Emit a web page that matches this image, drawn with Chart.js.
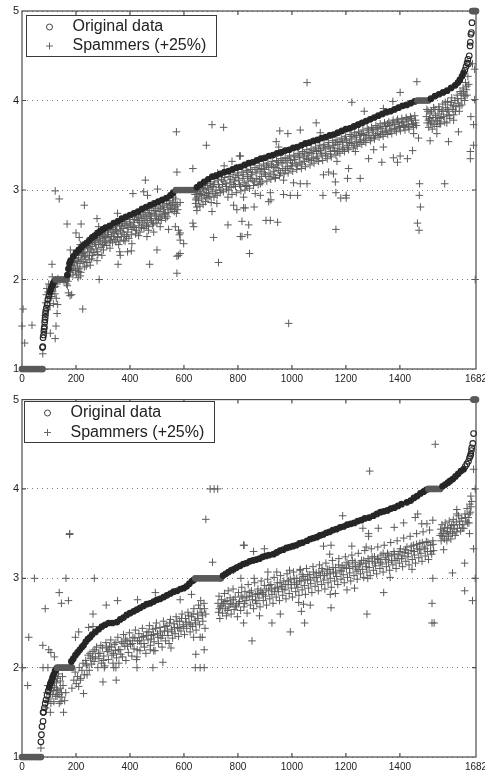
<!DOCTYPE html>
<html>
<head>
<meta charset="utf-8">
<title>Original data vs spammers</title>
<script src="https://cdn.jsdelivr.net/npm/chart.js@4/dist/chart.umd.min.js"></script>
<style>
  html, body { margin: 0; padding: 0; background: #fff; }
  #wrap { position: relative; width: 485px; height: 773px; overflow: hidden; }
  canvas { position: absolute; left: 0; }
  #top { top: 0; }
  #bottom { top: 390px; }
</style>
</head>
<body>
<div id="wrap">
  <canvas id="top" width="485" height="390"></canvas>
  <canvas id="bottom" width="485" height="383"></canvas>
</div>
<script>
const seriesLabels = ['Original data', 'Spammers (+25%)'];
const xTickValues = [0, 200, 400, 600, 800, 1000, 1200, 1400, 1682];
const yTickValues = [1, 2, 3, 4, 5];

// upper panel, sorted mean ratings [item, rating]
const origTop = [
[0,1],[8,1],[16,1],[24,1],[32,1],[40,1],[48,1],[56,1],[64,1],[72,1],[76,1],
[76,1.24],[77,1.25],[78,1.35],[80,1.38],[81,1.42],[82,1.45],[83,1.47],[84,1.52],[85,1.55],[86,1.58],[87,1.62],[88,1.65],[90,1.68],[93,1.72],[96,1.78],[100,1.82],[104,1.86],[108,1.9],[112,1.93],[116,1.96],[120,1.98],
[125,2],[132,2],[139,2],[146,2],[153,2],[160,2],[165,2],
[168,2.05],[172,2.12],[176,2.18],[180,2.21],[190,2.26],[200,2.3],[210,2.33],[220,2.36],[230,2.39],[240,2.41],[250,2.44],[260,2.47],[270,2.49],[280,2.52],[290,2.54],[300,2.56],[310,2.58],[325,2.6],[340,2.63],[355,2.65],[370,2.68],[385,2.7],[400,2.72],[415,2.74],[430,2.76],[445,2.79],[460,2.81],[475,2.83],[490,2.85],[505,2.87],[520,2.89],[535,2.91],[550,2.94],[560,2.97],
[570,3],[580,3],[590,3],[600,3],[610,3],[620,3],[630,3],[640,3],
[648,3.03],[660,3.06],[675,3.09],[690,3.12],[705,3.15],[720,3.16],[735,3.18],[750,3.2],[765,3.21],[780,3.23],[795,3.25],[810,3.26],[825,3.28],[840,3.3],[855,3.31],[870,3.33],[885,3.35],[900,3.36],[915,3.38],[930,3.39],[945,3.41],[960,3.42],[975,3.44],[990,3.45],[1005,3.47],[1020,3.48],[1035,3.5],[1050,3.52],[1065,3.53],[1080,3.55],[1095,3.56],[1110,3.58],[1125,3.59],[1140,3.61],[1155,3.62],[1170,3.64],[1185,3.66],[1200,3.68],[1215,3.69],[1230,3.71],[1245,3.73],[1260,3.75],[1275,3.77],[1290,3.79],[1305,3.81],[1320,3.83],[1335,3.85],[1350,3.87],[1365,3.88],[1380,3.9],[1395,3.92],[1410,3.94],[1425,3.95],[1440,3.97],[1455,3.99],
[1465,4],[1475,4],[1485,4],[1495,4],[1505,4],
[1515,4.02],[1530,4.05],[1545,4.07],[1560,4.09],[1575,4.11],[1590,4.14],[1605,4.17],[1615,4.2],[1622,4.23],[1630,4.27],[1636,4.31],[1641,4.34],[1645,4.38],[1649,4.42],[1652,4.46],[1654,4.41],[1657,4.5],[1660,4.61],[1661,4.65],[1663,4.74],[1665,4.76],[1667,4.87],
[1668,5],[1672,5],[1676,5],[1680,5],[1682,5]
];

const spamTopOutliers = [
[4,1.67],[0,1.48],[37,1.49],[10,1.29],[77,1.17],[105,1.4],[123,1.34],[126,1.48],[132,1.72],[130,1.62],[225,1.67],[111,2.17],[123,2.99],[138,2.9],[231,2.83],[167,2.62],[219,2.62],[200,2.52],[212,2.47],[216,2.39],[179,2.33],[278,2.68],[284,2.59],[286,2],[216,2.04],[210,2.09],[253,2.16],[278,2.21],[296,2.27],[356,2.17],[362,2.31],[364,2.27],[391,2.31],[405,2.32],[473,2.17],[500,2.33],[348,2.42],[377,2.44],[407,2.4],[354,2.74],[411,2.96],[451,2.98],[465,2.94],[586,2.86],[568,2.59],[574,2.07],[574,2.26],[580,2.27],[586,2.29],[599,2.4],[586,2.44],[583,2.5],[586,2.52],[580,2.55],[543,2.56],[512,2.59],[488,2.53],[469,2.55],[463,2.48],[432,2.49],[648,2.81],[633,2.63],[636,2.59],[710,2.47],[728,2.19],[763,2.61],[815,2.65],[815,2.48],[704,2.76],[722,2.85],[784,2.83],[796,2.78],[821,2.8],
[988,1.51],[843,2.29],[836,2.5],[809,2.48],[840,2.61],[904,2.66],[920,2.66],[947,2.64],[914,2.87],[922,2.89],[827,2.8],[860,2.81],[821,2.92],[864,2.96],[883,2.94],[920,2.97],[969,2.95],[994,2.94],[1021,2.94],[1115,2.94],[1163,2.56],[1163,2.97],[1181,2.91],[1201,2.94],[1201,2.91],[1472,2.94],[1476,2.81],[1465,2.63],[1471,2.55],[1679,2],
[1056,4.2],[1463,4.21],[1401,4.09],[1222,3.98],[1268,3.88],[1339,3.91],[1374,3.99],[1090,3.75],[1031,3.67],[955,3.66],[985,3.63],[1105,3.64],[942,3.54],[951,3.48],[1284,3.35],[1333,3.31],[1376,3.36],[1391,3.31],[1401,3.38],[1428,3.35],[1447,3.44],[1469,3.58],[1451,3.63],[1512,3.55],[1537,3.63],[1580,3.54],[1617,3.65],[1473,3.07],[1566,3.07],[1661,3.35],[1661,3.43],[1673,3.5],[1663,3.82],[1673,3.73],[1677,4.01],[1677,4.35],[1669,4.41],[1599,3.78],[1574,3.75],[1546,3.74],[1253,3.13],[1206,3.13],[1161,3.09],[1117,3.17],[1136,3.2],[1154,3.18],[1210,3.24],[1167,3.32],[1339,3.48],[1303,3.45],[1235,3.43],[1031,3.07],[1056,3.07],[1006,3.08],[969,3.11],[938,3.13],[883,3.07],[833,3.04],[809,3.38],
[457,3.11],[502,3.01],[572,3.65],[704,3.73],[747,3.7],[683,3.5],[574,3.2],[633,3.24],[806,3.38],[778,3.32],[749,3.27],[725,3.19]
];
const spamTopLow = [
[86,1.6],[88,1.74],[90,1.83],[92,1.9],[93,1.66],[95,1.76],[97,1.86],[99,1.95],[101,1.79],[103,1.89],[104,1.71],[106,1.84],[108,1.94],[110,1.81],[112,2.03],[114,1.87],[116,1.73],[118,1.91],[119,1.97],[122,1.84],[124,1.92],[127,1.79],[130,1.95],[133,2.01],[165,1.95],[168,1.93],[172,1.85],[178,1.82],[184,1.83],[170,1.98],[175,2.03],[180,2.08]
];
const spamTopBandLeft = [
[183,2.12],[186,2.2],[189,2.05],[192,2.16],[195,2.24],[198,2.1],[200,2.21],[203,2.28],[205,2.14],[208,2.02],[210,2.24],[213,2.31],[215,2.18],[218,2.08],[220,2.27],[223,2.34],[226,2.2],[228,2.3],[231,2.14],[233,2.36],[236,2.25],[239,2.38],[241,2.19],[244,2.31],[247,2.4],[250,2.27],[252,2.35],[255,2.42],[258,2.23],[260,2.37],[263,2.44],[266,2.3],[269,2.41],[272,2.47],[275,2.34],[278,2.45],[281,2.28],[284,2.39],[287,2.49],[290,2.43],[293,2.36],[296,2.51],[299,2.46],[302,2.33],[305,2.41],[308,2.53],[311,2.47],[314,2.38],[317,2.55],[320,2.5],[323,2.43],[326,2.35],[329,2.56],[332,2.48],[335,2.41],[338,2.58],[341,2.52],[344,2.45],[347,2.6],[350,2.54],[354,2.47],[358,2.39],[361,2.6],[365,2.55],[368,2.48],[372,2.63],[375,2.57],[379,2.5],[382,2.43],[385,2.65],[389,2.6],[392,2.53],[396,2.46],[399,2.67],[403,2.61],[407,2.56],[410,2.7],[414,2.64],[418,2.58],[421,2.51],[425,2.71],[429,2.66],[433,2.6],[437,2.53],[440,2.73],[444,2.68],[448,2.62],[452,2.57],[456,2.75],[460,2.7],[464,2.64],[468,2.59],[472,2.77],[476,2.71],[480,2.66],[484,2.61],[488,2.79],[492,2.73],[496,2.68],[500,2.63],[504,2.81],[508,2.76],[512,2.7],[516,2.66],[520,2.83],[524,2.78],[528,2.73],[532,2.68],[536,2.85],[540,2.8],[544,2.75],[548,2.88],[552,2.83],[556,2.78],[560,2.92],[563,2.86],[566,2.8],[569,2.9],[572,2.74],[575,2.84],
[181,2.16],[188,2.11],[194,2.19],[201,2.06],[207,2.2],[212,2.12],[219,2.22],[225,2.29],[232,2.26],[238,2.15],[243,2.36],[249,2.22],[256,2.33],[262,2.27],[268,2.46],[273,2.39],[279,2.31],[286,2.44],[292,2.5],[298,2.39],[304,2.48],[310,2.42],[316,2.5],[322,2.57],[328,2.44],[334,2.53],[340,2.48],[346,2.56],[352,2.61],[356,2.51],[363,2.43],[369,2.6],[374,2.53],[381,2.62],[387,2.48],[393,2.58],[400,2.63],[405,2.5],[412,2.59],[417,2.67],[424,2.55],[431,2.69],[436,2.64],[443,2.58],[449,2.71],[455,2.66],[461,2.6],[467,2.73],[474,2.68],[481,2.74],[487,2.63],[494,2.77],[499,2.71],[506,2.67],[513,2.79],[519,2.72],[526,2.81],[531,2.74],[538,2.7],[545,2.84],[551,2.79],[558,2.86],[564,2.76],[570,2.82],[577,2.78]
];
const spamTopBandMid = [
[641,2.95],[643,2.85],[646,2.91],[648,2.77],[651,3],[654,2.88],[657,2.96],[659,2.82],[662,2.98],[666,2.9],[669,3.03],[671,2.84],[675,2.94],[678,3.01],[680,2.87],[684,2.97],[687,3.05],[689,2.91],[692,3.01],[696,2.93],[698,3.07],[701,2.86],[705,2.98],[708,3.04],[711,2.92],[714,3.09],[719,3],[723,2.94],[726,3.11],[731,3.03],[734,2.97],[739,3.12],[743,3.06],[746,2.98],[751,3.14],[755,3.07],[758,3.01],[763,2.92],[767,3.15],[770,3.08],[775,3.03],[778,2.95],[782,3.17],[787,3.1],[791,3.04],[794,2.97],[799,3.19],[803,3.11],[806,3.06],[811,2.99],[815,3.2],[818,3.13],[823,3.08],[826,3],[831,3.22],[835,3.15],[838,3.1],[843,3.02],[847,3.23],[850,3.17],[855,3.11],[858,3.05],[863,3.25],[867,3.19],[870,3.13],[875,3.06],[879,3.27],[882,3.21],[887,3.15],[890,3.09],[895,3.29],[899,3.23],[902,3.17],[907,3.1],[911,3.3],[914,3.25],[919,3.19],[922,3.12],[927,3.32],[931,3.26],[934,3.21],[939,3.14],[943,3.33],[946,3.28],[951,3.22],[954,3.16],[959,3.35],[963,3.3],[966,3.24],[971,3.18],[975,3.36],[978,3.31],[983,3.26],[986,3.19],[991,3.38],[995,3.33],[998,3.27],[1003,3.21],[1007,3.39],[1010,3.34],[1015,3.29],[1018,3.23],[1023,3.41],[1027,3.36],[1030,3.31],[1035,3.24],[1039,3.43],[1042,3.37],[1047,3.32],[1050,3.26],[1055,3.45],[1059,3.39],[1062,3.34],[1067,3.28],[1071,3.46],[1074,3.41],[1079,3.36],[1082,3.3],[1087,3.48],[1091,3.43],[1094,3.37],[1099,3.32],[1103,3.5],[1106,3.44],[1111,3.39],[1114,3.33],[1119,3.51],[1123,3.46],[1126,3.41],[1131,3.35],[1135,3.53],[1138,3.48],[1143,3.43],[1146,3.37],[1151,3.55],[1155,3.5],[1158,3.44],[1163,3.39],[1167,3.56],[1170,3.51],[1175,3.46],[1178,3.41],[1183,3.58],[1187,3.53],[1190,3.48],[1195,3.43],[1199,3.6],[1202,3.55],[1207,3.5],[1210,3.45],[1215,3.62],[1219,3.57],[1222,3.52],[1227,3.47],[1231,3.64],[1234,3.59],[1239,3.54],[1242,3.49],[1247,3.65],[1251,3.61],[1254,3.56],[1259,3.51],[1263,3.67],[1266,3.62],[1271,3.57],[1274,3.53],[1279,3.69],[1283,3.64],[1286,3.59],[1291,3.55],[1295,3.7],[1298,3.66],[1303,3.61],[1306,3.57],[1311,3.72],[1315,3.68],[1318,3.63],[1323,3.59],[1327,3.74],[1330,3.69],[1335,3.65],[1338,3.6],[1343,3.75],[1347,3.71],[1350,3.66],[1355,3.62],[1359,3.76],[1362,3.72],[1367,3.68],[1370,3.63],[1375,3.78],[1379,3.73],[1382,3.69],[1387,3.65],[1391,3.79],[1394,3.75],[1399,3.71],[1402,3.66],[1407,3.8],[1411,3.76],[1414,3.72],[1419,3.67],[1423,3.81],[1426,3.77],[1431,3.73],[1434,3.68],[1439,3.82],[1443,3.78],[1446,3.74],[1451,3.7],[1455,3.83],[1458,3.78],[1461,3.72],
[644,2.89],[652,2.93],[664,2.95],[673,3.02],[682,2.92],[691,2.96],[700,3.03],[709,3.06],[716,2.96],[728,3.06],[737,3],[748,3.1],[757,3.04],[766,3],[773,3.12],[784,3.06],[792,3.14],[801,3.16],[810,3.04],[820,3.17],[829,3.05],[837,3.2],[846,3.13],[853,3.2],[862,3.09],[871,3.23],[880,3.12],[888,3.24],[897,3.19],[906,3.27],[915,3.15],[924,3.28],[933,3.17],[941,3.25],[950,3.31],[958,3.19],[967,3.33],[976,3.22],[985,3.35],[993,3.24],[1002,3.3],[1011,3.37],[1020,3.27],[1029,3.39],[1037,3.29],[1046,3.41],[1055,3.35],[1064,3.42],[1073,3.33],[1081,3.44],[1090,3.35],[1099,3.46],[1108,3.41],[1117,3.48],[1125,3.38],[1134,3.49],[1143,3.4],[1152,3.47],[1161,3.53],[1169,3.43],[1178,3.54],[1187,3.45],[1196,3.57],[1205,3.47],[1213,3.53],[1222,3.6],[1231,3.5],[1240,3.61],[1249,3.53],[1257,3.63],[1266,3.55],[1275,3.61],[1284,3.67],[1293,3.58],[1301,3.68],[1310,3.61],[1319,3.7],[1328,3.62],[1337,3.71],[1345,3.64],[1354,3.74],[1363,3.66],[1372,3.75],[1381,3.68],[1389,3.77],[1398,3.7],[1407,3.75],[1416,3.7],[1425,3.79],[1433,3.71],[1442,3.8],[1450,3.73],[1458,3.75]
];
const spamTopBandRight = [
[1498,3.82],[1501,3.75],[1504,3.88],[1507,3.7],[1510,3.8],[1514,3.74],[1517,3.88],[1520,3.68],[1523,3.81],[1527,3.73],[1530,3.9],[1534,3.78],[1537,3.71],[1541,3.85],[1544,3.93],[1548,3.8],[1551,3.74],[1555,3.88],[1559,3.96],[1562,3.82],[1566,3.76],[1570,3.92],[1574,3.84],[1577,3.99],[1581,3.88],[1585,3.8],[1589,3.95],[1592,4.03],[1596,3.9],[1600,3.84],[1604,4],[1608,3.93],[1612,4.06],[1616,3.97],[1620,3.88],[1623,4.1],[1627,4.02],[1630,3.95],[1634,4.14],[1637,4.06],[1640,4],[1643,4.2],[1646,4.12],[1649,4.06],[1652,4.27],[1655,4.18],
[1500,3.9],[1506,3.78],[1512,3.86],[1518,3.76],[1525,3.92],[1532,3.83],[1539,3.77],[1546,3.9],[1553,3.81],[1560,3.88],[1568,3.98],[1576,3.9],[1583,3.83],[1590,3.98],[1598,3.94],[1606,3.88],[1614,4.02],[1622,3.94],[1629,4.08],[1636,4.1],[1642,4.05],[1648,4.16]
];

// lower panel
const origBottom = [
[0,1],[8,1],[16,1],[24,1],[32,1],[40,1],[48,1],[56,1],[64,1],[70,1],
[70,1.17],[72,1.25],[74,1.34],[78,1.4],[78,1.5],[80,1.5],[83,1.55],[86,1.6],[89,1.64],[93,1.69],[97,1.74],[101,1.78],[105,1.82],[109,1.85],[113,1.89],[117,1.92],[122,1.96],[126,1.98],
[130,2],[138,2],[146,2],[154,2],[162,2],[170,2],[178,2],[185,2],
[183,2.07],[190,2.1],[198,2.14],[206,2.17],[214,2.2],[222,2.23],[228,2.25],[236,2.29],[244,2.32],[252,2.34],[260,2.37],[272,2.4],[284,2.43],[296,2.46],[308,2.48],[321,2.5],[335,2.5],[352,2.51],[364,2.54],[376,2.56],[388,2.59],[400,2.61],[414,2.63],[426,2.65],[438,2.67],[450,2.69],[462,2.71],[475,2.72],[488,2.74],[500,2.76],[512,2.77],[525,2.79],[537,2.81],[550,2.83],[562,2.85],[575,2.86],[587,2.88],[599,2.89],[610,2.91],[620,2.94],[630,2.97],[636,2.98],
[642,3],[652,3],[662,3],[672,3],[682,3],[692,3],[702,3],[712,3],[722,3],[732,3],[737,3],
[745,3.03],[755,3.05],[765,3.07],[775,3.09],[784,3.1],[795,3.12],[808,3.14],[820,3.16],[832,3.17],[844,3.19],[856,3.2],[868,3.21],[880,3.22],[892,3.24],[904,3.25],[916,3.26],[932,3.27],[944,3.29],[956,3.31],[968,3.32],[980,3.34],[992,3.35],[1004,3.36],[1016,3.37],[1028,3.39],[1040,3.4],[1056,3.42],[1068,3.44],[1080,3.45],[1092,3.46],[1104,3.48],[1116,3.49],[1128,3.51],[1140,3.52],[1152,3.54],[1165,3.55],[1179,3.57],[1192,3.58],[1205,3.6],[1218,3.61],[1231,3.62],[1244,3.64],[1257,3.65],[1270,3.67],[1286,3.68],[1302,3.7],[1315,3.72],[1328,3.74],[1341,3.75],[1354,3.76],[1367,3.78],[1380,3.79],[1393,3.81],[1406,3.83],[1426,3.85],[1440,3.87],[1452,3.9],[1464,3.92],[1476,3.95],[1488,3.97],[1498,3.99],
[1506,4],[1516,4],[1526,4],[1536,4],[1549,4],
[1558,4.03],[1568,4.05],[1578,4.07],[1586,4.09],[1596,4.11],[1606,4.14],[1616,4.17],[1626,4.2],[1636,4.22],[1642,4.25],[1648,4.28],[1654,4.31],[1658,4.35],[1661,4.37],[1663,4.39],[1665,4.43],[1666,4.46],[1670,4.51],[1673,4.62],
[1672,5],[1677,5],[1682,5]
];

const spamBottomOutliers = [
[46,3],[163,3],[268,3],[177,3.5],[176,3.49],[681,3.66],[697,4],[712,4],[725,4],[706,3.18],[821,3.37],[811,3],[784,3.09],
[138,2.84],[172,2.75],[146,2.72],[86,2.66],[312,2.7],[354,2.75],[263,2.6],[247,2.45],[263,2.46],[210,2.4],[198,2.34],[25,2.34],[77,2.25],[99,2.2],[107,2.17],[120,2.12],[2,2],[78,2],[96,2],[305,2],[340,2],[348,2],[426,2],[485,2],[642,2],[660,2],[675,2],[522,2.06],[488,2.19],[475,2.2],[552,2.22],[426,2.12],[644,2.15],[675,2.2],[636,2.34],[660,2.34],[668,2.34],[300,1.84],[349,1.86],[228,1.71],[21,1.8],[154,1.5],[105,1.5],[70,1.1],[185,1.77],[210,1.79],[216,1.86],[241,1.92],[148,1.67],[130,1.68],[142,1.77],[628,2.82],[586,2.76],[494,2.84],[428,2.76],
[852,2.3],[994,2.4],[1047,2.5],[926,2.5],[821,2.5],[957,2.6],[880,2.58],[1035,2.63],[1145,2.67],[1278,2.6],[1340,2.84],[1519,2.72],[1519,2.5],[1527,2.5],[1640,2.86],[1669,2.75],[1204,2.87],[1232,2.89],[1161,2.83],[1142,2.82],[1068,2.7],[1043,2.71],[1025,2.73],
[1531,4.5],[1288,4.2],[1188,3.7],[823,3.37],[858,3.3],[898,3.33],[1117,3.36],[1145,3.37],[1140,3.27],[1222,3.36],[1275,3.35],[1263,3.56],[1284,3.5],[1284,3.47],[1320,3.56],[1379,3.57],[1414,3.62],[1457,3.68],[1466,3.72],[1522,3.65],[1481,3.61],[1500,3.61],[1611,3.77],[1611,3.72],[1562,3.32],[1673,3.33],[1640,3.17],[1595,3.06],[1679,4],[1673,4.22],[1658,3.5],[1522,3],[1679,3],[911,3.07],[944,3.07],[991,3.09],[860,3],[1031,3.1],[1281,3],[1364,3.01],[1445,3.1]
];
const spamBottomLow = [
[88,1.55],[92,1.72],[96,1.8],[100,1.65],[103,1.74],[107,1.6],[109,1.82],[112,1.7],[115,1.87],[118,1.62],[120,1.78],[123,1.9],[125,1.68],[128,1.83],[132,1.75],[135,1.93],[138,1.6],[142,1.85],[146,1.72],[152,1.8],[158,1.63],[162,1.72],
[94,1.62],[105,1.7],[111,1.8],[117,1.74],[121,1.85],[127,1.75],[131,1.88],[137,1.7],[144,1.62],[150,1.9]
];
const spamBottomBandLeft = [
[192,1.86],[197,1.95],[201,1.82],[206,1.9],[212,2],[217,1.88],[222,1.97],[226,2.05],[231,1.92],[236,2.08],[240,2.02],[245,2.14],[249,1.97],[254,2.1],[258,2.04],[263,2.18],[267,2.07],[272,2.12],[276,2.23],[281,2],[285,2.1],[289,2.16],[294,2.05],[298,2.22],[303,2.13],[307,2.02],[311,2.28],[316,2.18],[320,2.09],[324,2.24],[329,2.31],[333,2.14],[337,2.05],[342,2.26],[346,2.19],[350,2.11],[355,2.34],[359,2.05],[363,2.2],[368,2.29],[372,2.12],[376,2.37],[381,2.24],[385,2.08],[389,2.3],[394,2.17],[398,2.39],[402,2.26],[407,2.13],[411,2.34],[415,2.21],[420,2.42],[424,2.09],[428,2.3],[433,2.38],[437,2.19],[441,2.27],[446,2.44],[450,2.35],[454,2.23],[459,2.16],[463,2.4],[467,2.31],[472,2.47],[476,2.25],[480,2.36],[485,2.43],[489,2.29],[493,2.19],[498,2.5],[502,2.38],[506,2.27],[511,2.45],[515,2.33],[519,2.23],[524,2.52],[528,2.41],[532,2.3],[537,2.47],[541,2.36],[545,2.27],[550,2.54],[554,2.43],[558,2.33],[563,2.49],[567,2.38],[571,2.57],[576,2.45],[580,2.35],[584,2.52],[589,2.41],[593,2.6],[597,2.48],[602,2.37],[606,2.55],[610,2.44],[615,2.62],[619,2.5],[623,2.4],[628,2.57],[632,2.46],[637,2.66],[641,2.53],[645,2.42],[650,2.6],[654,2.7],[658,2.48],[662,2.75],[666,2.62],[670,2.52],[674,2.72],[678,2.44],[681,2.6],
[238,2.04],[252,2.16],[261,2.12],[270,2.2],[283,2.16],[292,2.25],[301,2.08],[313,2.23],[322,2.2],[331,2.23],[339,2.16],[348,2.28],[357,2.2],[366,2.15],[374,2.27],[383,2.32],[391,2.24],[400,2.3],[409,2.27],[418,2.33],[427,2.2],[435,2.3],[444,2.34],[452,2.27],[461,2.36],[470,2.4],[478,2.32],[487,2.37],[495,2.44],[504,2.34],[513,2.4],[521,2.36],[530,2.46],[539,2.41],[547,2.5],[556,2.4],[565,2.45],[574,2.52],[582,2.44],[591,2.55],[599,2.46],[608,2.51],[617,2.58],[625,2.48],[634,2.6],[643,2.5],[652,2.55],[660,2.66],[668,2.58],[676,2.66]
];
const spamBottomBandMid = [
[726,2.72],[728,2.62],[730,2.8],[733,2.55],[736,2.68],[739,2.76],[743,2.61],[746,2.72],[750,2.83],[753,2.66],[757,2.58],[760,2.75],[764,2.86],[767,2.68],[771,2.78],[775,2.6],[778,2.72],[782,2.88],[786,2.65],[790,2.79],[794,2.7],[798,2.57],[802,2.84],[806,2.74],[810,2.64],[814,2.9],[818,2.78],[822,2.68],[826,2.85],[830,2.75],[834,2.61],[838,2.93],[842,2.8],[846,2.7],[850,2.86],[854,2.76],[858,2.66],[862,2.95],[866,2.82],[870,2.72],[874,2.88],[878,2.78],[882,2.68],[886,2.97],[890,2.84],[894,2.75],[898,2.92],[902,2.8],[906,2.7],[910,2.99],[914,2.86],[918,2.77],[922,2.93],[926,2.82],[930,2.72],[934,3.01],[938,2.89],[942,2.79],[946,2.95],[950,2.85],[954,2.75],[958,3.03],[962,2.91],[966,2.81],[970,2.97],[974,2.87],[978,2.77],[982,3.05],[986,2.93],[990,2.83],[994,2.99],[998,2.89],[1002,2.79],[1006,3.07],[1010,2.95],[1014,2.85],[1018,3],[1022,2.9],[1026,2.81],[1030,3.09],[1034,2.97],[1038,2.87],[1042,3.02],[1046,2.92],[1050,2.82],[1054,3.11],[1058,2.99],[1062,2.89],[1066,3.04],[1070,2.94],[1074,2.84],[1078,3.13],[1082,3.01],[1086,2.91],[1090,3.06],[1094,2.96],[1098,2.86],[1102,3.15],[1106,3.03],[1110,2.93],[1114,3.08],[1118,2.98],[1122,2.88],[1126,3.17],[1130,3.05],[1134,2.95],[1138,3.1],[1142,3],[1146,2.9],[1150,3.2],[1154,3.07],[1158,2.97],[1162,3.12],[1166,3.02],[1170,2.93],[1174,3.22],[1178,3.09],[1182,2.99],[1186,3.14],[1190,3.04],[1194,2.95],[1198,3.24],[1202,3.11],[1206,3.01],[1210,3.16],[1214,3.06],[1218,2.97],[1222,3.26],[1226,3.13],[1230,3.03],[1234,3.18],[1238,3.08],[1242,2.99],[1246,3.28],[1250,3.15],[1254,3.05],[1258,3.2],[1262,3.1],[1266,3.01],[1270,3.31],[1274,3.17],[1278,3.07],[1282,3.22],[1286,3.12],[1290,3.03],[1294,3.33],[1298,3.19],[1302,3.09],[1306,3.24],[1310,3.14],[1314,3.05],[1318,3.35],[1322,3.21],[1326,3.11],[1330,3.26],[1334,3.16],[1338,3.07],[1342,3.37],[1346,3.23],[1350,3.13],[1354,3.28],[1358,3.18],[1362,3.09],[1366,3.4],[1370,3.25],[1374,3.15],[1378,3.3],[1382,3.2],[1386,3.11],[1390,3.42],[1394,3.27],[1398,3.17],[1402,3.33],[1406,3.22],[1410,3.13],[1414,3.45],[1418,3.29],[1422,3.19],[1426,3.35],[1430,3.24],[1434,3.15],[1438,3.47],[1442,3.31],[1446,3.21],[1450,3.37],[1454,3.26],[1458,3.17],[1462,3.5],[1466,3.33],[1470,3.23],[1474,3.39],[1478,3.28],[1482,3.19],[1486,3.52],[1490,3.35],[1494,3.25],[1498,3.41],[1502,3.3],[1506,3.21],[1510,3.54],[1514,3.37],[1518,3.27],[1522,3.42],[1525,3.31],
[731,2.66],[741,2.7],[752,2.74],[762,2.64],[772,2.71],[783,2.76],[792,2.68],[803,2.72],[812,2.8],[824,2.72],[833,2.79],[844,2.84],[853,2.8],[865,2.75],[873,2.83],[885,2.86],[894,2.82],[905,2.88],[915,2.92],[925,2.88],[935,2.85],[946,2.9],[956,2.95],[966,2.88],[977,2.93],[987,2.97],[997,2.93],[1008,3],[1017,2.93],[1028,2.97],[1038,3.04],[1049,2.98],[1059,3.04],[1069,2.98],[1080,3.07],[1090,3.01],[1100,3.06],[1111,3.11],[1121,3.03],[1131,3.1],[1142,3.05],[1152,3.12],[1162,3.06],[1173,3.15],[1183,3.08],[1193,3.12],[1204,3.18],[1214,3.11],[1224,3.2],[1235,3.13],[1245,3.1],[1255,3.16],[1266,3.2],[1276,3.13],[1286,3.19],[1297,3.24],[1307,3.17],[1317,3.22],[1328,3.18],[1338,3.28],[1349,3.21],[1359,3.26],[1369,3.2],[1380,3.27],[1390,3.22],[1400,3.3],[1411,3.25],[1421,3.32],[1431,3.28],[1442,3.36],[1452,3.3],[1462,3.38],[1473,3.32],[1483,3.4],[1493,3.33],[1504,3.4],[1514,3.3],[1523,3.38]
];
const spamBottomBandRight = [
[1549,3.48],[1551,3.55],[1553,3.42],[1556,3.6],[1559,3.47],[1562,3.53],[1565,3.44],[1568,3.62],[1571,3.5],[1574,3.42],[1577,3.57],[1580,3.47],[1583,3.64],[1586,3.52],[1589,3.44],[1592,3.59],[1595,3.5],[1598,3.66],[1601,3.55],[1605,3.48],[1609,3.63],[1613,3.56],[1617,3.7],[1621,3.6],[1625,3.53],[1629,3.67],[1633,3.6],[1637,3.56],[1641,3.72],[1645,3.64],[1649,3.78],[1653,3.68],[1656,3.62],[1659,3.83],[1661,3.74],[1663,3.92],[1664,3.8],[1666,3.86],
[1555,3.5],[1566,3.56],[1576,3.52],[1588,3.56],[1600,3.6],[1611,3.52],[1622,3.64],[1631,3.56],[1643,3.68],[1651,3.62],[1657,3.72]
];

function toPoints(list) {
  return list.map(function (p) { return { x: p[0], y: p[1] }; });
}

// frame and the small inward ticks, drawn under the marks
const framePlugin = {
  id: 'frame',
  beforeDatasetsDraw: function (chart) {
    const c = chart.ctx, a = chart.chartArea, sx = chart.scales.x, sy = chart.scales.y;
    c.save();
    c.strokeStyle = '#4a4a4a';
    c.lineWidth = 1.2;
    c.strokeRect(a.left, a.top, a.right - a.left, a.bottom - a.top);
    c.beginPath();
    xTickValues.slice(1, -1).forEach(function (v) {
      const px = sx.getPixelForValue(v);
      c.moveTo(px, a.bottom); c.lineTo(px, a.bottom - 4);
      c.moveTo(px, a.top); c.lineTo(px, a.top + 4);
    });
    yTickValues.slice(1, -1).forEach(function (v) {
      const py = sy.getPixelForValue(v);
      c.moveTo(a.left, py); c.lineTo(a.left + 4, py);
      c.moveTo(a.right, py); c.lineTo(a.right - 4, py);
    });
    c.stroke();
    c.restore();
  }
};

// boxed legend inside the axes, the built-in one can't draw the frame
const boxLegendPlugin = {
  id: 'boxLegend',
  afterDatasetsDraw: function (chart, args, opts) {
    const c = chart.ctx;
    c.save();
    c.fillStyle = '#fff';
    c.strokeStyle = '#3a3a3a';
    c.lineWidth = 1;
    c.fillRect(opts.x, opts.y, opts.w, opts.h);
    c.strokeRect(opts.x, opts.y, opts.w, opts.h);
    c.font = '16px "Liberation Sans"';
    c.textBaseline = 'middle';
    c.fillStyle = '#222';
    c.fillText(seriesLabels[0], opts.textX, opts.y1);
    c.fillText(seriesLabels[1], opts.textX, opts.y2);
    c.strokeStyle = '#444';
    c.beginPath();
    c.arc(opts.markX, opts.y1, 3, 0, Math.PI * 2);
    c.stroke();
    c.strokeStyle = '#666';
    c.beginPath();
    c.moveTo(opts.markX - 3.5, opts.y2); c.lineTo(opts.markX + 3.5, opts.y2);
    c.moveTo(opts.markX, opts.y2 - 3.5); c.lineTo(opts.markX, opts.y2 + 3.5);
    c.stroke();
    c.restore();
  }
};

// flat runs at whole ratings print lighter than the rest of the curve
function curveColor(ctx) {
  return ctx.raw && Number.isInteger(ctx.raw.y) ? '#5a5a5a' : '#262626';
}
function curveFill(ctx) {
  if (!ctx.raw) return 'transparent';
  const dense = ctx.raw.x > 100 && ctx.raw.x < 1640 || Number.isInteger(ctx.raw.y);
  return dense ? curveColor(ctx) : 'transparent';
}

function drawPanel(id, curve, spam, padTop, axisH, legendOpts) {
  new Chart(document.getElementById(id), {
    type: 'scatter',
    data: {
      datasets: [
        {
          label: seriesLabels[0],
          data: toPoints(curve),
          order: 1,
          clip: false,
          pointStyle: 'circle',
          pointRadius: 2.8,
          pointBorderWidth: 1.1,
          pointBorderColor: curveColor,
          pointBackgroundColor: curveFill
        },
        {
          label: seriesLabels[1],
          data: toPoints(spam),
          order: 2,
          clip: false,
          pointStyle: 'cross',
          pointRadius: 3.8,
          pointBorderWidth: 1,
          pointBorderColor: '#5c5c5c'
        }
      ]
    },
    options: {
      responsive: false,
      animation: false,
      layout: { autoPadding: false, padding: { top: padTop, right: 9, left: 0, bottom: 0 } },
      plugins: { legend: { display: false }, tooltip: { enabled: false }, boxLegend: legendOpts },
      scales: {
        x: {
          type: 'linear',
          min: 0,
          max: 1682,
          afterBuildTicks: function (s) { s.ticks = xTickValues.map(function (v) { return { value: v }; }); },
          // drop the label overhang or the plot shrinks away from the right edge
          afterFit: function (s) { s.height = axisH; s.paddingLeft = 0; s.paddingRight = 0; },
          grid: { display: false, drawTicks: false },
          border: { display: false },
          ticks: {
            autoSkip: false, maxRotation: 0, padding: 4, color: '#222',
            font: { family: '"Liberation Sans"', size: 10 },
            callback: function (v) { return String(v); }
          }
        },
        y: {
          type: 'linear',
          min: 1,
          max: 5,
          afterBuildTicks: function (s) { s.ticks = yTickValues.map(function (v) { return { value: v }; }); },
          afterFit: function (s) { s.width = 22; },
          grid: { color: '#7a7a7a', lineWidth: 1, drawTicks: false },
          border: { display: false, dash: [1, 4] },
          ticks: {
            padding: 3, color: '#222',
            font: { family: '"Liberation Sans"', size: 11 },
            callback: function (v) { return String(v); }
          }
        }
      }
    },
    plugins: [framePlugin, boxLegendPlugin]
  });
}

drawPanel('top', origTop,
  spamTopOutliers.concat(spamTopLow, spamTopBandLeft, spamTopBandMid, spamTopBandRight),
  11, 21,
  { x: 26.5, y: 15.5, w: 190, h: 41, textX: 72.5, markX: 49.5, y1: 27, y2: 46 });

drawPanel('bottom', origBottom,
  spamBottomOutliers.concat(spamBottomLow, spamBottomBandLeft, spamBottomBandMid, spamBottomBandRight),
  9, 16,
  { x: 24.5, y: 11.5, w: 190, h: 41, textX: 70.5, markX: 47.5, y1: 23, y2: 42.5 });
</script>
</body>
</html>
